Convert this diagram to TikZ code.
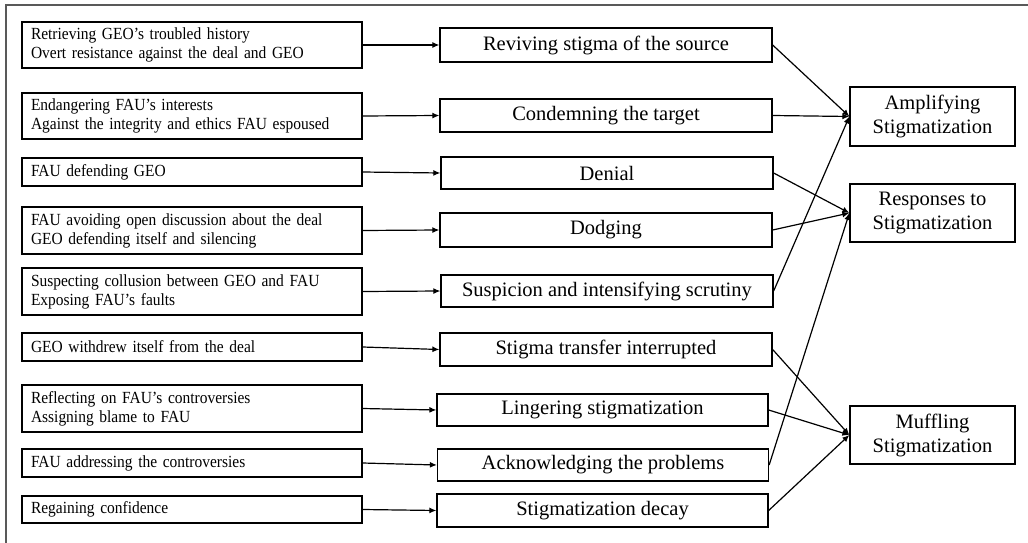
\documentclass[tikz,border=0pt]{standalone}
\usepackage{fontspec}
\setmainfont{Liberation Serif}
\newfontfamily\srcfont[Ligatures=TeX,FakeStretch=0.91,WordSpace=0.4]{Liberation Serif}
\usetikzlibrary{arrows.meta}
\begin{document}
\begin{tikzpicture}[x=1pt,y=-1pt,
	src/.style={draw,line width=1.3pt,text width=322pt,inner xsep=9pt,inner ysep=0pt,align=left,font=\srcfont\fontsize{17}{19}\selectfont},
	code/.style={draw,line width=1.3pt,minimum width=332pt,inner sep=0pt,font=\fontsize{20.5}{24}\selectfont},
	theme/.style={draw,line width=1.3pt,minimum width=165pt,minimum height=58pt,inner sep=0pt,align=center,font=\fontsize{20.5}{24}\selectfont},
	link/.style={line width=1.2pt,-{Latex[length=7pt,width=6pt]}}]
	\useasboundingbox (0,0) rectangle (1028,543);
	\draw[line width=1.5pt,draw=black!65] (6,543)--(6,5)--(1028,5);
	\node[src,minimum height=46pt] (l1) at (192,45) {Retrieving GEO’s troubled history\\Overt resistance against the deal and GEO};
	\node[src,minimum height=46pt] (l2) at (192,116) {Endangering FAU’s interests\\Against the integrity and ethics FAU espoused};
	\node[src,minimum height=28pt] (l3) at (192,172) {FAU defending GEO};
	\node[src,minimum height=47pt] (l4) at (192,230.5) {FAU avoiding open discussion about the deal\\GEO defending itself and silencing};
	\node[src,minimum height=47pt] (l5) at (192,291.5) {Suspecting collusion between GEO and FAU\\Exposing FAU’s faults};
	\node[src,minimum height=28pt] (l6) at (192,347) {GEO withdrew itself from the deal};
	\node[src,minimum height=47pt] (l7) at (192,408.5) {Reflecting on FAU’s controversies\\Assigning blame to FAU};
	\node[src,minimum height=28pt] (l8) at (192,463) {FAU addressing the controversies};
	\node[src,minimum height=27pt] (l9) at (192,509.5) {Regaining confidence};
	\node[code,minimum height=34pt] (m1) at (606,45) {Reviving stigma of the source};
	\node[code,minimum height=33pt] (m2) at (606,115.5) {Condemning the target};
	\node[code,minimum height=32pt] (m3) at (607,173) {Denial};
	\node[code,minimum height=34pt] (m4) at (606,230) {Dodging};
	\node[code,minimum height=32pt] (m5) at (607,291) {Suspicion and intensifying scrutiny};
	\node[code,minimum height=33pt] (m6) at (606,349.5) {Stigma transfer interrupted};
	\node[code,minimum height=32pt,minimum width=331pt] (m7) at (602.5,410) {Lingering stigmatization};
	\node[code,minimum height=32pt,minimum width=331pt] (m8) at (603,465) {Acknowledging the problems};
	\node[code,minimum height=33pt,minimum width=331pt] (m9) at (602.5,510.5) {Stigmatization decay};
	\node[theme,minimum height=59pt] (amp) at (932.5,116.5) {Amplifying\\Stigmatization};
	\node[theme] (resp) at (932.5,213) {Responses to\\Stigmatization};
	\node[theme] (muff) at (932.5,435) {Muffling\\Stigmatization};
	\draw[link] (l1.east)--(m1.west);
	\draw[link] (l2.east)--(m2.west);
	\draw[link] (l3.east)--(m3.west);
	\draw[link] (l4.east)--(m4.west);
	\draw[link] (l5.east)--(m5.west);
	\draw[link] (l6.east)--(m6.west);
	\draw[link] (l7.east)--(m7.west);
	\draw[link] (l8.east)--(m8.west);
	\draw[link] (l9.east)--(m9.west);
	\draw[link] (m1.east)--(amp.west);
	\draw[link] (m2.east)--(amp.west);
	\draw[link] (m5.east)--(amp.west);
	\draw[link] (m3.east)--(resp.west);
	\draw[link] (m4.east)--(resp.west);
	\draw[link] (m8.east)--(resp.west);
	\draw[link] (m6.east)--(muff.west);
	\draw[link] (m7.east)--(muff.west);
	\draw[link] (m9.east)--(muff.west);
\end{tikzpicture}
\end{document}
